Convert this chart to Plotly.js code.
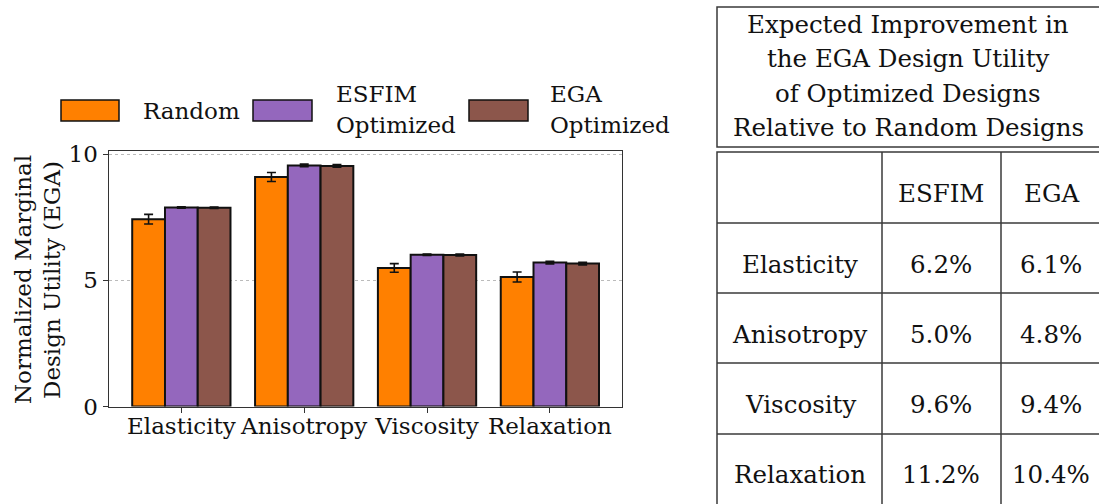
<!DOCTYPE html>
<html>
<head>
<meta charset="utf-8">
<script src="https://cdn.plot.ly/plotly-3.0.1.min.js"></script>
<style>
  html, body { margin: 0; padding: 0; background: #ffffff; }
  #chart { width: 1099px; height: 504px; }
</style>
</head>
<body>
<div id="chart"></div>
<script>
// Normalized marginal design utility (EGA) per material parameter
const categories = ['Elasticity', 'Anisotropy', 'Viscosity', 'Relaxation'];
const seriesNames = ['Random', 'ESFIM<br>Optimized', 'EGA<br>Optimized'];
const randomMean = [7.42, 9.09, 5.49, 5.13];
const randomErr  = [0.19, 0.18, 0.17, 0.20];
const esfimMean  = [7.88, 9.55, 6.01, 5.70];
const esfimErr   = [0.03, 0.05, 0.03, 0.05];
const egaMean    = [7.87, 9.53, 6.00, 5.66];
const egaErr     = [0.03, 0.05, 0.04, 0.05];
const yTickVals  = [0, 5, 10];

// Summary table: expected improvement relative to random designs
const tableTitle = ['Expected Improvement in', 'the EGA Design Utility',
                    'of Optimized Designs', 'Relative to Random Designs'];
const tableColumns = ['ESFIM', 'EGA'];
const tableRows = ['Elasticity', 'Anisotropy', 'Viscosity', 'Relaxation'];
const esfimGain = ['6.2%', '5.0%', '9.6%', '11.2%'];
const egaGain   = ['6.1%', '4.8%', '9.4%', '10.4%'];

const W = 1099, H = 504;
const px = x => x / W;          // pixel column -> paper x
const py = y => 1 - y / H;      // pixel row -> paper y

const FONT = 'DejaVu Serif';
const FS = 23;       // chart text size
const FS_T = 24.5;   // table text size
const colors = ['#ff8000', '#9467bd', '#8c564b'];
const means = [randomMean, esfimMean, egaMean];
const errs = [randomErr, esfimErr, egaErr];

const traces = means.map((m, i) => ({
  type: 'bar',
  x: categories,
  y: m,
  name: seriesNames[i],
  marker: { color: colors[i], line: { color: '#111111', width: 2 } },
  error_y: { type: 'data', array: errs[i], visible: true,
             color: '#111111', thickness: 1.6, width: 4.5 },
  showlegend: false,
  hoverinfo: 'x+y'
}));

const shapes = [];
const annotations = [];

// Legend: swatches and labels
const legendItems = [
  { x0: 61,  x1: 119, tx: 141, lines: ['Random'] },
  { x0: 253, x1: 312, tx: 334, lines: ['ESFIM', 'Optimized'] },
  { x0: 469, x1: 528, tx: 548, lines: ['EGA', 'Optimized'] }
];
legendItems.forEach((it, i) => {
  shapes.push({ type: 'rect', xref: 'paper', yref: 'paper',
    x0: px(it.x0), x1: px(it.x1), y0: py(121), y1: py(100),
    fillcolor: colors[i], line: { color: '#111111', width: 1.5 } });
  const centers = it.lines.length === 1 ? [111] : [94, 125];
  it.lines.forEach((t, k) => annotations.push({
    xref: 'paper', yref: 'paper', x: px(it.tx), y: py(centers[k]),
    xanchor: 'left', yanchor: 'middle', text: t, showarrow: false,
    font: { family: FONT, size: FS, color: '#111111' } }));
});

// Y axis title (two lines)
['Normalized Marginal', 'Design Utility (EGA)'].forEach((t, k) => annotations.push({
  xref: 'paper', yref: 'paper', x: px(k === 0 ? 23 : 52), y: py(280),
  xanchor: 'center', yanchor: 'middle', textangle: -90, text: t, showarrow: false,
  font: { family: FONT, size: FS, color: '#111111' } }));

// Table frame
const LC = '#3a3a3a';
const tblL = 717, tblR = 1101, c1 = 882, c2 = 1001;
const rowEdges = [152, 223, 293, 363, 434, 505];
shapes.push({ type: 'rect', xref: 'paper', yref: 'paper',
  x0: px(tblL), x1: px(tblR), y0: py(147), y1: py(7),
  line: { color: LC, width: 1.5 }, fillcolor: 'rgba(0,0,0,0)' });
shapes.push({ type: 'rect', xref: 'paper', yref: 'paper',
  x0: px(tblL), x1: px(tblR), y0: py(505), y1: py(152),
  line: { color: LC, width: 1.5 }, fillcolor: 'rgba(0,0,0,0)' });
rowEdges.slice(1, -1).forEach(y => shapes.push({ type: 'line', xref: 'paper', yref: 'paper',
  x0: px(tblL), x1: px(tblR), y0: py(y), y1: py(y), line: { color: LC, width: 1.5 } }));
[c1, c2].forEach(x => shapes.push({ type: 'line', xref: 'paper', yref: 'paper',
  x0: px(x), x1: px(x), y0: py(152), y1: py(505), line: { color: LC, width: 1.5 } }));

// Table title text
const titleCenters = [24, 58, 93, 127];
tableTitle.forEach((t, k) => annotations.push({
  xref: 'paper', yref: 'paper', x: px(908), y: py(titleCenters[k]),
  xanchor: 'center', yanchor: 'middle', text: t, showarrow: false,
  font: { family: FONT, size: FS_T, color: '#111111' } }));

// Table cells
const colCenters = [800, 941, 1051];
const cellText = (x, yc, t) => annotations.push({
  xref: 'paper', yref: 'paper', x: px(x), y: py(yc),
  xanchor: 'center', yanchor: 'middle', text: t, showarrow: false,
  font: { family: FONT, size: FS_T, color: '#111111' } });
tableColumns.forEach((t, j) => cellText(colCenters[j + 1], 194, t));
tableRows.forEach((r, i) => {
  const yc = 264 + i * 70.3;
  cellText(colCenters[0], yc, r);
  cellText(colCenters[1], yc, esfimGain[i]);
  cellText(colCenters[2], yc, egaGain[i]);
});

const layout = {
  width: W, height: H,
  margin: { l: 0, r: 0, t: 0, b: 0, pad: 0 },
  paper_bgcolor: '#ffffff', plot_bgcolor: '#ffffff',
  barmode: 'group', bargap: 0.2, bargroupgap: 0,
  font: { family: FONT, size: FS, color: '#111111' },
  xaxis: {
    domain: [px(108.5), px(622)],
    type: 'category', range: [-0.593, 3.587],
    showline: true, linecolor: '#333333', linewidth: 1, mirror: true,
    ticks: 'outside', ticklen: 5, tickwidth: 1, tickcolor: '#333333',
    ticklabelstandoff: -6,
    showgrid: false, automargin: false,
    tickfont: { family: FONT, size: FS, color: '#111111' }
  },
  yaxis: {
    domain: [py(406.5), py(151)],
    range: [0, 10.12], tickvals: yTickVals, ticktext: yTickVals.map(String),
    showline: true, linecolor: '#333333', linewidth: 1, mirror: true,
    ticks: 'outside', ticklen: 5, tickwidth: 1, tickcolor: '#333333',
    showgrid: true, gridcolor: '#bbbbbb', gridwidth: 1, griddash: 'dot',
    zeroline: false, automargin: false,
    tickfont: { family: FONT, size: FS, color: '#111111' }
  },
  shapes: shapes,
  annotations: annotations,
  showlegend: false
};

Plotly.newPlot('chart', traces, layout, { displayModeBar: false, staticPlot: true });
</script>
</body>
</html>
